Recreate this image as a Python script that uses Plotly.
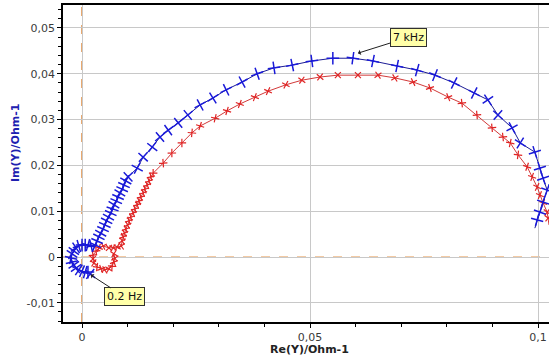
import plotly.graph_objects as go

# ---- data, high frequency -> low frequency ----
blue_re = [0.0993, 0.0998, 0.1004, 0.1011, 0.1020, 0.1011, 0.1004, 0.0993, 0.0961, 0.0943,
           0.0912, 0.0890, 0.0860, 0.0816, 0.0774, 0.0735, 0.0691, 0.0638, 0.0594, 0.0550,
           0.0504, 0.0461, 0.0421, 0.0384, 0.0351, 0.0316, 0.0287, 0.0259, 0.0232, 0.0211,
           0.0189, 0.0171, 0.0154, 0.0134, 0.0121,
           0.0101, 0.0096, 0.0092, 0.0088, 0.0083, 0.0079, 0.0075, 0.0070, 0.0067, 0.0063,
           0.0058, 0.0054, 0.0050, 0.0046, 0.0041, 0.0037, 0.0033, 0.0029,
           0.0020, 0.0013, 0.0007, 0.0000, -0.0007, -0.0013, -0.0018, -0.0022, -0.0024,
           -0.0022, -0.0018, -0.0013, -0.0007, 0.0000, 0.0007, 0.0013, 0.0018]
blue_im = [0.0063, 0.0081, 0.0098, 0.0120, 0.0146, 0.0172, 0.0194, 0.0229, 0.0249, 0.0282,
           0.0310, 0.0343, 0.0358, 0.0380, 0.0397, 0.0408, 0.0417, 0.0428, 0.0434, 0.0434,
           0.0428, 0.0419, 0.0413, 0.0400, 0.0382, 0.0365, 0.0347, 0.0332, 0.0310, 0.0293,
           0.0277, 0.0262, 0.0240, 0.0218, 0.0194,
           0.0175, 0.0166, 0.0157, 0.0148, 0.0140, 0.0131, 0.0122, 0.0114, 0.0105, 0.0096,
           0.0087, 0.0079, 0.0070, 0.0061, 0.0052, 0.0044, 0.0035, 0.0026,
           0.0024, 0.0026, 0.0026, 0.0026, 0.0024, 0.0020, 0.0013, 0.0007, -0.0002,
           -0.0011, -0.0017, -0.0024, -0.0028, -0.0031, -0.0033, -0.0033, -0.0037]

red_re = [0.1024, 0.1022, 0.1020, 0.1011, 0.1004, 0.0998, 0.0987, 0.0976, 0.0956, 0.0939,
          0.0923, 0.0899, 0.0866, 0.0833, 0.0803, 0.0763, 0.0726, 0.0686, 0.0649, 0.0605,
          0.0561, 0.0522, 0.0482, 0.0447, 0.0408, 0.0379, 0.0346, 0.0318, 0.0292, 0.0259,
          0.0241, 0.0219, 0.0197, 0.0178,
          0.0156, 0.0151, 0.0147, 0.0143, 0.0138, 0.0134, 0.0129, 0.0125, 0.0121, 0.0116,
          0.0112, 0.0107, 0.0103, 0.0100, 0.0096, 0.0093, 0.0090, 0.0088, 0.0086,
          0.0077, 0.0068, 0.0059,
          0.0046, 0.0037, 0.0031, 0.0024, 0.0024, 0.0026, 0.0033, 0.0042, 0.0050, 0.0059,
          0.0066, 0.0070, 0.0072, 0.0070]
red_im = [0.0070, 0.0085, 0.0098, 0.0118, 0.0135, 0.0153, 0.0175, 0.0197, 0.0223, 0.0249,
          0.0262, 0.0282, 0.0310, 0.0336, 0.0349, 0.0369, 0.0382, 0.0391, 0.0397, 0.0397,
          0.0397, 0.0393, 0.0386, 0.0376, 0.0362, 0.0349, 0.0334, 0.0319, 0.0303, 0.0286,
          0.0271, 0.0249, 0.0227, 0.0205,
          0.0183, 0.0175, 0.0166, 0.0157, 0.0148, 0.0140, 0.0131, 0.0122, 0.0114, 0.0105,
          0.0096, 0.0087, 0.0079, 0.0070, 0.0061, 0.0052, 0.0044, 0.0035, 0.0024,
          0.0022, 0.0020, 0.0020,
          0.0024, 0.0020, 0.0013, 0.0004, -0.0004, -0.0013, -0.0022, -0.0026, -0.0028, -0.0026,
          -0.0020, -0.0011, -0.0002, 0.0007]

y_tick_vals = [-0.01, 0, 0.01, 0.02, 0.03, 0.04, 0.05]
y_tick_text = ["-0,01", "0", "0,01", "0,02", "0,03", "0,04", "0,05"]
x_tick_vals = [0, 0.05, 0.1]
x_tick_text = ["0", "0,05", "0,1"]

label_hi = "7 kHz"
label_lo = "0.2 Hz"
hi_point = (0.0605, 0.0445)
lo_point = (0.0019, -0.0039)

fig = go.Figure()
fig.add_trace(go.Scatter(
    x=red_re, y=red_im, mode="lines+markers",
    line=dict(color="#d23a3a", width=1),
    marker=dict(symbol="x-thin", size=6, angleref="previous",
                line=dict(color="#e02424", width=1.2)),
    showlegend=False, cliponaxis=True))
fig.add_trace(go.Scatter(
    x=blue_re, y=blue_im, mode="lines+markers",
    line=dict(color="#1c1c96", width=1),
    marker=dict(symbol="cross-thin", size=9, angleref="previous",
                line=dict(color="#1a1ad8", width=1.5)),
    showlegend=False, cliponaxis=True))

axis_font = dict(family="DejaVu Sans", size=11, color="#3a3a3a")
fig.update_xaxes(range=[-0.00417, 0.1024], tickvals=x_tick_vals, ticktext=x_tick_text,
                 showgrid=True, gridcolor="#c8c8c8", gridwidth=1, zeroline=False,
                 showline=True, linecolor="black", linewidth=1.5, mirror=True,
                 ticks="outside", ticklen=4, tickcolor="black", tickfont=axis_font,
                 minor=dict(dtick=0.01, tick0=0, ticks="outside", ticklen=3,
                            tickcolor="black", showgrid=False))
fig.update_yaxes(range=[-0.01419, 0.05502], tickvals=y_tick_vals, ticktext=y_tick_text,
                 showgrid=True, gridcolor="#c8c8c8", gridwidth=1, zeroline=False,
                 showline=True, linecolor="black", linewidth=1.5,
                 ticks="outside", ticklen=4, tickcolor="black", tickfont=axis_font,
                 minor=dict(dtick=0.002, tick0=0, ticks="outside", ticklen=3,
                            tickcolor="black", showgrid=False))

# orange dashed reference lines at x=0 and y=0
fig.add_shape(type="line", xref="x", yref="paper", x0=0, x1=0, y0=0, y1=1,
              line=dict(color="white", width=2.5), layer="between")
fig.add_shape(type="line", xref="x", yref="paper", x0=0, x1=0, y0=0, y1=1,
              line=dict(color="#e08a3c", width=1.5, dash="dash"), layer="between")
fig.add_shape(type="line", xref="paper", yref="y", x0=0, x1=1, y0=0, y1=0,
              line=dict(color="white", width=2), layer="between")
fig.add_shape(type="line", xref="paper", yref="y", x0=0, x1=1, y0=0, y1=0,
              line=dict(color="#e59448", width=1, dash="dash"), layer="between")

box = dict(bgcolor="#ffffa8", bordercolor="#303030", borderwidth=1, borderpad=2,
           font=dict(family="DejaVu Sans", size=11, color="#111111"),
           showarrow=True, arrowhead=1, arrowsize=0.9, arrowwidth=1, arrowcolor="#202020")
fig.add_annotation(x=hi_point[0], y=hi_point[1], text=label_hi, ax=51, ay=-16, **box)
fig.add_annotation(x=lo_point[0], y=lo_point[1], text=label_lo, ax=34, ay=22, **box)

# axis titles
fig.add_annotation(xref="paper", yref="paper", x=(309 - 63) / 486, y=(322 - 349) / 317,
                   xanchor="center", yanchor="middle",
                   text="<b>Re(Y)/Ohm-1</b>", showarrow=False,
                   font=dict(family="DejaVu Sans", size=11, color="#222222"))
fig.add_annotation(xref="paper", yref="paper", x=(15 - 63) / 486, y=(322 - 143) / 317,
                   xanchor="center", yanchor="middle",
                   text="<b>Im(Y)/Ohm-1</b>", showarrow=False, textangle=-90,
                   font=dict(family="DejaVu Sans", size=11, color="#2020b0"))

fig.update_layout(width=549, height=363, margin=dict(l=63, r=0, t=5, b=41),
                  plot_bgcolor="white", paper_bgcolor="white")
fig.write_html("out.html")
